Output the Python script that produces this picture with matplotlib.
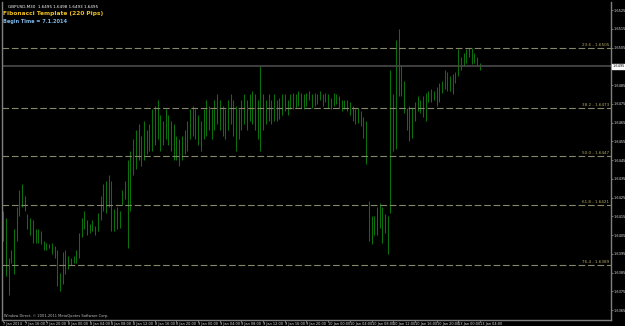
import matplotlib
matplotlib.use("Agg")
import matplotlib.pyplot as plt

# GBPUSD M30 bars, high / low
highs = [1.6418, 1.6414, 1.6393, 1.6397, 1.6408, 1.6420, 1.6429, 1.6432, 1.6426, 1.6416,
         1.6414, 1.6413, 1.6408, 1.6408, 1.6407, 1.6402, 1.6401, 1.6400, 1.6401, 1.6399,
         1.6397, 1.6385, 1.6396, 1.6397, 1.6394, 1.6393, 1.6394, 1.6397, 1.6406, 1.6414,
         1.6418, 1.6413, 1.6411, 1.6413, 1.6410, 1.6417, 1.6426, 1.6432, 1.6434, 1.6437,
         1.6434, 1.6419, 1.6420, 1.6418, 1.6429, 1.6434, 1.6445, 1.6450, 1.6456, 1.6461,
         1.6464, 1.6458, 1.6466, 1.6461, 1.6464, 1.6472, 1.6474, 1.6477, 1.6469, 1.6466,
         1.6472, 1.6469, 1.6466, 1.6464, 1.6458, 1.6456, 1.6458, 1.6461, 1.6466, 1.6472,
         1.6474, 1.6472, 1.6469, 1.6466, 1.6472, 1.6477, 1.6474, 1.6472, 1.6477, 1.6480,
         1.6477, 1.6474, 1.6472, 1.6477, 1.6480, 1.6477, 1.6474, 1.6472, 1.6477, 1.6480,
         1.6477, 1.6480, 1.6482, 1.6480, 1.6477, 1.6495, 1.6480, 1.6477, 1.6480, 1.6477,
         1.6480, 1.6477, 1.6478, 1.6480, 1.6480, 1.6477, 1.6480, 1.6481, 1.6480, 1.6482,
         1.6481, 1.6480, 1.6481, 1.6482, 1.6480, 1.6481, 1.6480, 1.6482, 1.6480, 1.6481,
         1.6480, 1.6478, 1.6481, 1.6480, 1.6479, 1.6477, 1.6477, 1.6477, 1.6476, 1.6474,
         1.6472, 1.6473, 1.6471, 1.6468, 1.6466, 1.6423, 1.6415, 1.6415, 1.6420, 1.6422,
         1.6420, 1.6416, 1.6415, 1.6493, 1.6480, 1.6509, 1.6515, 1.6495, 1.6487, 1.6473,
         1.6474, 1.6473, 1.6476, 1.6479, 1.6477, 1.6479, 1.6481, 1.6482, 1.6483, 1.6482,
         1.6484, 1.6486, 1.6487, 1.6493, 1.6492, 1.6490, 1.6491, 1.6492, 1.6504, 1.6500,
         1.6502, 1.6504, 1.6505, 1.6505, 1.6502, 1.6500, 1.6497]
lows = [1.6402, 1.6383, 1.6373, 1.6390, 1.6384, 1.6402, 1.6415, 1.6420, 1.6418, 1.6408,
        1.6405, 1.6401, 1.6401, 1.6401, 1.6400, 1.6397, 1.6397, 1.6398, 1.6395, 1.6393,
        1.6378, 1.6375, 1.6379, 1.6384, 1.6387, 1.6389, 1.6390, 1.6390, 1.6393, 1.6404,
        1.6408, 1.6405, 1.6406, 1.6407, 1.6405, 1.6407, 1.6413, 1.6418, 1.6417, 1.6420,
        1.6407, 1.6407, 1.6408, 1.6409, 1.6421, 1.6424, 1.6398, 1.6418, 1.6437, 1.6440,
        1.6445, 1.6442, 1.6445, 1.6448, 1.6450, 1.6450, 1.6453, 1.6456, 1.6450, 1.6453,
        1.6456, 1.6453, 1.6450, 1.6445, 1.6445, 1.6442, 1.6445, 1.6448, 1.6450, 1.6456,
        1.6458, 1.6456, 1.6453, 1.6450, 1.6456, 1.6458, 1.6461, 1.6456, 1.6461, 1.6464,
        1.6461, 1.6458, 1.6456, 1.6461, 1.6464, 1.6458, 1.6450, 1.6456, 1.6461, 1.6464,
        1.6461, 1.6466, 1.6464, 1.6461, 1.6456, 1.6450, 1.6461, 1.6464, 1.6466, 1.6464,
        1.6466, 1.6466, 1.6467, 1.6469, 1.6471, 1.6469, 1.6472, 1.6472, 1.6473, 1.6474,
        1.6473, 1.6472, 1.6474, 1.6477, 1.6473, 1.6474, 1.6475, 1.6477, 1.6474, 1.6476,
        1.6473, 1.6472, 1.6474, 1.6475, 1.6473, 1.6471, 1.6472, 1.6471, 1.6469, 1.6466,
        1.6464, 1.6465, 1.6463, 1.6457, 1.6443, 1.6402, 1.6400, 1.6405, 1.6405, 1.6409,
        1.6401, 1.6406, 1.6395, 1.6417, 1.6450, 1.6451, 1.6479, 1.6479, 1.6470, 1.6461,
        1.6455, 1.6457, 1.6466, 1.6471, 1.6470, 1.6468, 1.6466, 1.6476, 1.6476, 1.6477,
        1.6474, 1.6476, 1.6481, 1.6483, 1.6482, 1.6482, 1.6480, 1.6486, 1.6490, 1.6493,
        1.6495, 1.6497, 1.6500, 1.6496, 1.6497, 1.6495, 1.6493]

date_labels = ["7 Jan 2014", "7 Jan 16:00", "7 Jan 20:00", "8 Jan 00:00", "8 Jan 04:00",
               "8 Jan 08:00", "8 Jan 12:00", "8 Jan 16:00", "8 Jan 20:00", "9 Jan 00:00",
               "9 Jan 04:00", "9 Jan 08:00", "9 Jan 12:00", "9 Jan 16:00", "9 Jan 20:00",
               "10 Jan 00:00", "10 Jan 04:00", "10 Jan 08:00", "10 Jan 12:00", "10 Jan 16:00",
               "10 Jan 20:00", "13 Jan 00:00", "13 Jan 04:00"]
bars_per_label = 8

price_ticks = [1.6525, 1.6515, 1.6505, 1.6495, 1.6485, 1.6475, 1.6465, 1.6455, 1.6445,
               1.6435, 1.6425, 1.6415, 1.6405, 1.6395, 1.6385, 1.6375, 1.6365]

fib_levels = [23.6, 38.2, 50.0, 61.8, 76.4]
fib_prices = [1.6505, 1.6473, 1.6447, 1.6421, 1.6389]

last_price = 1.6495

fig = plt.figure(figsize=(6.25, 3.26), dpi=100, facecolor="black")
ax = fig.add_axes([2 / 625, 6 / 326, 609 / 625, 318 / 326])
ax.set_facecolor("black")

x = list(range(len(highs)))
ax.vlines(x, lows, highs, color="#0b720b", linewidth=0.75)

ax.set_xlim(-0.4, 224.4)
ax.set_ylim(1.63597, 1.65293)

# fibo levels
for lvl, p in zip(fib_levels, fib_prices):
    ax.axhline(p, color="#86866a", linewidth=0.8, linestyle=(0, (6, 2.5)))
    ax.text(223.8, p + 0.00005, f"{lvl:.1f} - {p:.4f}", color="#b3a760",
            fontsize=3.0, ha="right", va="bottom")

# current price line
ax.axhline(last_price, color="#4a4a4a", linewidth=1.2)

ax.yaxis.tick_right()
ax.set_yticks(price_ticks)
ax.set_yticklabels(["" if p == last_price else f"{p:.4f}" for p in price_ticks])
ax.set_xticks([i * bars_per_label for i in range(len(date_labels))])
ax.set_xticklabels(date_labels, ha="left")
ax.tick_params(axis="both", colors="#a0a0a0", labelcolor="#e0e0e0", labelsize=2.5,
               length=1.2, width=0.5, pad=0.4)

for side in ["left", "right", "bottom"]:
    ax.spines[side].set_color("#808080")
    ax.spines[side].set_linewidth(1)
ax.spines["top"].set_visible(False)

# price box on the right scale
ax.text(1.0025, last_price, f"{last_price:.4f}", transform=ax.get_yaxis_transform(),
        fontsize=2.5, color="black", va="center", ha="left",
        bbox=dict(boxstyle="square,pad=0.2", fc="white", ec="white"))

fig.text(8 / 625, 1 - 7 / 326, "GBPUSD,M30  1.6495 1.6498 1.6493 1.6495", color="white",
         fontsize=3.0, va="center")
fig.text(3 / 625, 1 - 14 / 326, "Fibonacci Template (220 Pips)", color="#f0c020",
         fontsize=4.2, fontweight="bold", va="center")
fig.text(3 / 625, 1 - 21 / 326, "Begin Time = 7.1.2014", color="#7fb8e8",
         fontsize=3.6, fontweight="bold", va="center")
fig.text(4 / 625, 1 - 316 / 326, "Window Direct, \u00a9 2001-2011 MetaQuotes Software Corp.",
         color="#c0c0c0", fontsize=2.6, va="center")

fig.savefig("out.png", dpi=100, facecolor="black")
